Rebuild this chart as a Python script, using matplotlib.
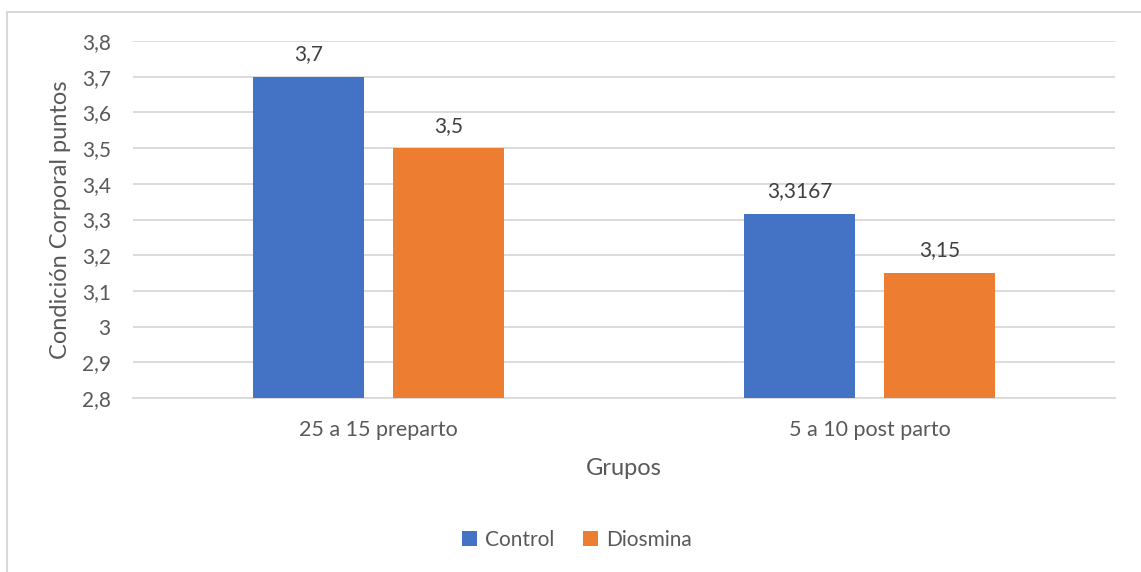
import matplotlib
matplotlib.use("Agg")
import matplotlib.pyplot as plt
from matplotlib.patches import Rectangle
from matplotlib.ticker import FuncFormatter
import numpy as np

categories = ["25 a 15 preparto", "5 a 10 post parto"]
control = [3.7, 3.3167]
diosmina = [3.5, 3.15]
control_labels = ["3,7", "3,3167"]
diosmina_labels = ["3,5", "3,15"]
y_ticks = [2.8, 2.9, 3.0, 3.1, 3.2, 3.3, 3.4, 3.5, 3.6, 3.7, 3.8]

BLUE = "#4472C4"
ORANGE = "#ED7D31"
TEXT = "#595959"
GRID = "#D9D9D9"

plt.rcParams["font.family"] = ["Lato", "DejaVu Sans"]

fig = plt.figure(figsize=(11.41, 5.72), dpi=100)
fig.patch.set_facecolor("white")

# chart frame
fig.add_artist(Rectangle((7 / 1141, -0.05), 1.2, 1.05 - 12 / 572,
                         transform=fig.transFigure, fill=False,
                         edgecolor="#D9D9D9", linewidth=1.5))

ax = fig.add_axes([133 / 1141, 1 - 398 / 572, (1115 - 133) / 1141, (398 - 41) / 572])

x = np.arange(len(categories))
width = 0.226
offset = 0.142
b1 = ax.bar(x - offset, control, width, color=BLUE, label="Control", zorder=3)
b2 = ax.bar(x + offset, diosmina, width, color=ORANGE, label="Diosmina", zorder=3)

for bars, labels in ((b1, control_labels), (b2, diosmina_labels)):
    for rect, lab in zip(bars, labels):
        ax.annotate(lab, (rect.get_x() + rect.get_width() / 2, rect.get_height()),
                    xytext=(0, 9), textcoords="offset points", ha="center", va="bottom",
                    fontsize=15, color="#404040")

ax.set_xlim(-0.5, 1.5)
ax.set_ylim(2.8, 3.8)
ax.set_yticks(y_ticks)
ax.yaxis.set_major_formatter(FuncFormatter(lambda v, p: f"{v:g}".replace(".", ",")))
ax.set_xticks(x)
ax.set_xticklabels(categories)

ax.grid(axis="y", color=GRID, linewidth=1.3, zorder=0)
ax.set_axisbelow(True)
for s in ["top", "right", "left"]:
    ax.spines[s].set_visible(False)
ax.spines["bottom"].set_color(GRID)
ax.spines["bottom"].set_linewidth(1.3)
ax.tick_params(axis="y", length=0, labelsize=15, labelcolor=TEXT, pad=16)
ax.tick_params(axis="x", length=0, labelsize=15.5, labelcolor=TEXT, pad=16)

ax.set_xlabel("Grupos", fontsize=17, color=TEXT, labelpad=13)
ax.set_ylabel("Condición Corporal puntos", fontsize=17, color=TEXT, labelpad=8)

fig.legend(handles=[b1, b2], labels=["Control", "Diosmina"], loc="center",
           bbox_to_anchor=(577 / 1141, 1 - 540 / 572), ncol=2, frameon=False,
           fontsize=15, handlelength=0.7, handleheight=0.7, handletextpad=0.4,
           columnspacing=1.4, labelcolor=TEXT)

fig.savefig("out.png", dpi=100, facecolor="white")
